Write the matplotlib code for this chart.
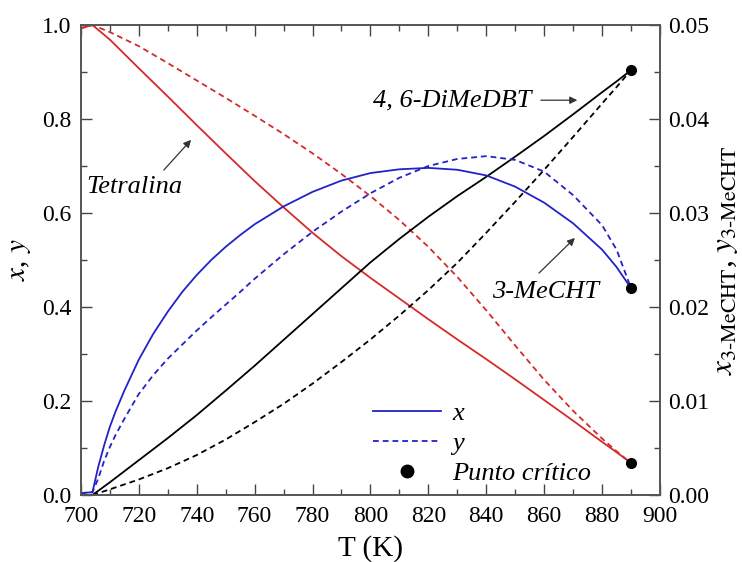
import matplotlib
matplotlib.use('Agg')
import matplotlib.pyplot as plt
from matplotlib.lines import Line2D
from matplotlib.ticker import MultipleLocator

plt.rcParams['font.family'] = 'serif'
plt.rcParams['font.serif'] = ['Liberation Serif', 'DejaVu Serif']
plt.rcParams['mathtext.fontset'] = 'stix'

# temperatures (K) for tetralina curves
T = [700, 704, 710, 720, 730, 740, 750, 760, 770, 780, 790, 800, 810,
     820, 830, 840, 850, 860, 870, 880, 885, 890]
x_tet = [0.993, 1.0, 0.969, 0.908, 0.848, 0.787, 0.727, 0.668, 0.612, 0.558,
         0.508, 0.462, 0.418, 0.374, 0.331, 0.289, 0.246, 0.202, 0.158, 0.113,
         0.091, 0.068]
y_tet = [0.993, 1.0, 0.985, 0.955, 0.919, 0.882, 0.845, 0.807, 0.768, 0.727,
         0.683, 0.636, 0.585, 0.528, 0.464, 0.393, 0.318, 0.245, 0.179, 0.12,
         0.093, 0.068]

# 4,6-DiMeDBT
T_dbt = [704, 710, 720, 730, 740, 750, 760, 770, 780, 790, 800, 810, 820,
         830, 840, 850, 860, 870, 880, 885, 890]
x_dbt = [0.0, 0.027, 0.074, 0.121, 0.170, 0.222, 0.275, 0.33, 0.385, 0.44,
         0.495, 0.545, 0.592, 0.636, 0.677, 0.720, 0.764, 0.81, 0.857, 0.88,
         0.904]
y_dbt = [0.0, 0.012, 0.033, 0.057, 0.085, 0.118, 0.155, 0.194, 0.237, 0.283,
         0.331, 0.382, 0.436, 0.494, 0.558, 0.624, 0.692, 0.762, 0.833, 0.868,
         0.904]

# 3-MeCHT, read on the right axis
T_mec = [700, 704, 706, 708, 710, 712, 715, 720, 725, 730, 735, 740,
         745, 750, 755, 760, 770, 780, 790, 800, 810, 820, 830, 840, 850,
         860, 870, 880, 885, 890]
x_mec = [0.0002, 0.0003, 0.003, 0.00525, 0.00725, 0.0089, 0.0111, 0.0144,
         0.01715, 0.0195, 0.0216, 0.0234, 0.025, 0.0264, 0.02765, 0.0288,
         0.0307, 0.03225, 0.03345, 0.03425, 0.03465, 0.0348, 0.0346, 0.034,
         0.0328, 0.0311, 0.0289, 0.0261, 0.02425, 0.022]
y_mec = [0.0002, 0.0003, 0.00175, 0.0036, 0.0051, 0.0064, 0.0081, 0.01075,
         0.01275, 0.0145, 0.016, 0.0175, 0.0189, 0.02025, 0.0216, 0.023,
         0.0256, 0.028, 0.03015, 0.0321, 0.03375, 0.035, 0.03575, 0.03605,
         0.03565, 0.0344, 0.0319, 0.0287, 0.0261, 0.022]

# critical points
Tc = 890
xc_left = [0.904, 0.068]
xc_right = 0.022

red = '#d42a2a'
blue = '#2222c8'
dash = (0, (3.2, 2.2))

fig = plt.figure(figsize=(7.42, 5.62), dpi=100)
ax = fig.add_axes([0.109, 0.1192, 0.7805, 0.8363])
ax2 = ax.twinx()

ax.plot(T, x_tet, color=red, lw=1.3)
ax.plot(T, y_tet, color=red, lw=1.3, linestyle=dash)
ax.plot(T_dbt, x_dbt, color='black', lw=1.3)
ax.plot(T_dbt, y_dbt, color='black', lw=1.3, linestyle=dash)
ax.plot([Tc, Tc], xc_left, 'o', color='black', ms=7, ls='none')

lx, = ax2.plot(T_mec, x_mec, color=blue, lw=1.3)
ly, = ax2.plot(T_mec, y_mec, color=blue, lw=1.3, linestyle=dash)
ax2.plot([Tc], [xc_right], 'o', color='black', ms=7)

ax.set_xlim(700, 900)
ax.set_ylim(0, 1.0)
ax2.set_ylim(0, 0.05)

ax.xaxis.set_major_locator(MultipleLocator(20))
ax.xaxis.set_minor_locator(MultipleLocator(10))
ax.yaxis.set_major_locator(MultipleLocator(0.2))
ax.yaxis.set_minor_locator(MultipleLocator(0.1))
ax2.yaxis.set_major_locator(MultipleLocator(0.01))
ax2.yaxis.set_minor_locator(MultipleLocator(0.005))
ax.yaxis.set_major_formatter(lambda v, p: f'{v:.1f}')
ax2.yaxis.set_major_formatter(lambda v, p: f'{v:.2f}')

ax.tick_params(which='both', direction='in', top=True, labelsize=17, color='#444444')
ax.tick_params(which='major', length=8, width=1)
ax.tick_params(which='minor', length=4.5, width=1)
ax.tick_params(axis='x', pad=8)
ax.tick_params(axis='y', which='both', right=False, pad=7)
ax2.tick_params(which='both', direction='in', labelsize=17, color='#444444', pad=6)
ax2.tick_params(which='major', length=8, width=1)
ax2.tick_params(which='minor', length=4.5, width=1)

for a in (ax, ax2):
    for s in a.spines.values():
        s.set_color('#555555')
        s.set_linewidth(1.2)

ax.set_xlabel('T (K)', fontsize=21, labelpad=6)
ax.set_ylabel(r'$x$, $y$', fontsize=21, labelpad=6)
ax2.set_ylabel(r'$x_{\mathrm{3\text{-}MeCHT}}$, $y_{\mathrm{3\text{-}MeCHT}}$',
               fontsize=22.5, labelpad=1)

# labels for each component
arrow = dict(arrowstyle='-|>', color='#333333', lw=0.9, mutation_scale=11)
ax.annotate('', xy=(738.7, 0.76), xytext=(728, 0.687), arrowprops=arrow)
ax.text(718.5, 0.655, 'Tetralina', fontsize=19, style='italic',
        ha='center', va='center')
ax.annotate('', xy=(872.4, 0.84), xytext=(857.9, 0.84), arrowprops=arrow)
ax.text(855.5, 0.84, '4, 6-DiMeDBT', fontsize=19, style='italic',
        ha='right', va='center')
ax.annotate('', xy=(871.3, 0.551), xytext=(857.5, 0.468), arrowprops=arrow)
ax.text(860.3, 0.432, '3-MeCHT', fontsize=19, style='italic',
        ha='center', va='center')

pc = Line2D([], [], marker='o', color='black', ms=9, ls='none')
ax2.legend([lx, ly, pc], ['x', 'y', 'Punto crítico'], frameon=False,
           prop={'style': 'italic', 'size': 19}, handlelength=2.6,
           labelspacing=0.25, handletextpad=0.4,
           loc='lower left', bbox_to_anchor=(0.463, -0.03))

fig.savefig('out.png', dpi=100)
